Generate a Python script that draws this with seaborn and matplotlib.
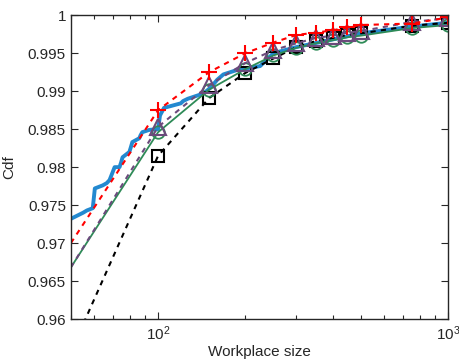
import numpy as np
import pandas as pd
import matplotlib
matplotlib.use("Agg")
import matplotlib.pyplot as plt
import seaborn as sns

# valores
tamanhos = [50, 100, 150, 200, 250, 300, 350, 400, 450, 500, 750, 1000]
cdf_vermelho = [0.9700, 0.9875, 0.9925, 0.9950, 0.9964, 0.9974, 0.9977, 0.9980, 0.9984, 0.9987, 0.9989, 0.9997]
cdf_roxo = [0.9668, 0.9853, 0.9908, 0.9937, 0.9954, 0.9963, 0.9970, 0.9973, 0.9977, 0.9979, 0.9991, 0.9996]
cdf_verde = [0.9668, 0.9846, 0.9902, 0.9929, 0.9947, 0.9957, 0.9963, 0.9967, 0.9971, 0.9973, 0.9983, 0.9987]
cdf_preto = [0.9557, 0.9815, 0.9891, 0.9924, 0.9943, 0.9958, 0.9966, 0.9970, 0.9974, 0.9976, 0.9986, 0.9990]

# curva empirica (azul)
x_azul = [50, 55.1, 56.8, 59.5, 60.5, 64.4, 66.5, 68.0, 70.8, 73.6, 74.5, 75.4, 79.6, 80.5, 81.5,
          86.1, 87.0, 88.2, 93.2, 100, 101.5, 104.8, 119.8, 122, 126.6, 143.6, 152, 159.9, 167.9,
          187.6, 224.8, 250, 300, 400, 500, 750, 1000]
y_azul = [0.9732, 0.9740, 0.9743, 0.9746, 0.9772, 0.9776, 0.9779, 0.9783, 0.9800, 0.9800, 0.9806, 0.9813,
          0.9820, 0.9826, 0.9833, 0.9838, 0.9842, 0.9846, 0.9849, 0.9850, 0.9868, 0.9878, 0.9884, 0.9887,
          0.9890, 0.9897, 0.9905, 0.9915, 0.9922, 0.9928, 0.9933, 0.9950, 0.9958, 0.9968, 0.9976, 0.9985, 0.9990]

yticks = [0.96, 0.965, 0.97, 0.975, 0.98, 0.985, 0.99, 0.995, 1.0]
ytick_labels = ["0.96", "0.965", "0.97", "0.975", "0.98", "0.985", "0.99", "0.995", "1"]

sns.set_style("ticks")
plt.rcParams['font.family'] = ['Liberation Sans', 'DejaVu Sans']
plt.rcParams['mathtext.fontset'] = 'custom'
plt.rcParams['mathtext.rm'] = 'Liberation Sans'
plt.rcParams['xtick.direction'] = 'in'
plt.rcParams['ytick.direction'] = 'in'

fig, ax = plt.subplots(figsize=(4.6, 3.61), dpi=100)
fig.subplots_adjust(left=0.154, right=0.974, bottom=0.116, top=0.958)

marcas = list(range(1, len(tamanhos)))

sns.lineplot(x=x_azul, y=y_azul, color="#2389d0", linewidth=2.8, estimator=None, sort=False, ax=ax)
sns.lineplot(x=tamanhos, y=cdf_preto, color="black", linestyle=(0, (2.5, 2.5)), linewidth=1.5,
             marker="s", markersize=8, markerfacecolor="none", markeredgecolor="black",
             markeredgewidth=1.5, markevery=marcas, estimator=None, ax=ax)
sns.lineplot(x=tamanhos, y=cdf_verde, color="#2e8b57", linewidth=1.3,
             marker="o", markersize=9, markerfacecolor="none", markeredgecolor="#2e8b57",
             markeredgewidth=1.3, markevery=marcas, estimator=None, ax=ax)
sns.lineplot(x=tamanhos, y=cdf_roxo, color="#6b4a7c", linestyle=(0, (2.5, 2.5)), linewidth=1.5,
             marker="^", markersize=11, markerfacecolor="none", markeredgecolor="#6b4a7c",
             markeredgewidth=1.5, markevery=marcas, estimator=None, ax=ax)
sns.lineplot(x=tamanhos, y=cdf_vermelho, color="#ff0000", linestyle=(0, (2.5, 2.5)), linewidth=1.5,
             marker="+", markersize=12, markeredgecolor="#ff0000",
             markeredgewidth=1.5, markevery=marcas, estimator=None, ax=ax)

ax.set_xscale("log")
ax.set_xlim(50, 1000)
ax.set_ylim(0.96, 1.0)
ax.set_yticks(yticks)
ax.set_yticklabels(ytick_labels)
ax.set_xlabel("Workplace size", fontsize=11, labelpad=2)
ax.set_ylabel("Cdf", fontsize=11, labelpad=8)
ax.tick_params(axis="both", which="both", labelsize=11, top=True, right=True, width=0.8)
ax.tick_params(axis="both", which="major", length=5)
ax.tick_params(axis="x", which="minor", length=3)
for s in ax.spines.values():
    s.set_linewidth(1.0)

plt.savefig("out.png", dpi=100)
